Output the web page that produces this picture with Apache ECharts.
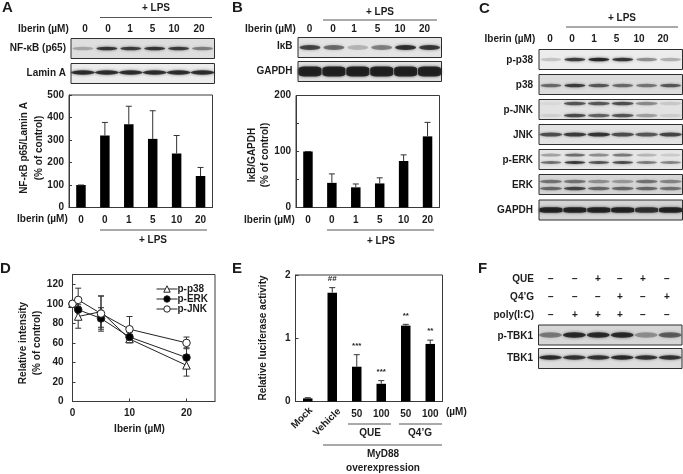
<!DOCTYPE html>
<html>
<head>
<meta charset="utf-8">
<script src="https://cdn.jsdelivr.net/npm/echarts@6/dist/echarts.min.js"></script>
<style>
  html,body{margin:0;padding:0;background:#fff;}
  #chart{width:683px;height:474px;}
</style>
</head>
<body>
<div id="chart"></div>
<script>
// bar panels
const doseLabels = ['0','0','1','5','10','20'];
const nfkbValues = [100,320,370,305,240,140];
const nfkbTops = [100,378,450,430,320,178];
const ikbValues = [100,44,36,43,83,127];
const ikbTops = [100,60,42,53,94,152];
const lucCategories = ['Mock','Vehicle','50','100','50','100'];
const lucValues = [0.05,1.72,0.55,0.28,1.2,0.91];
const lucTops = [0.06,1.8,0.74,0.33,1.22,0.97];
const lucMarks = ['','##','***','***','**','**'];

// line panel
const iberinDoses = [0,1,5,10,20];
const pP38 = [100,87,92,64,37];
const pP38Err = [0,12,16,4,11];
const pERK = [100,94,85,66,45];
const pERKErr = [0,10,11,5,10];
const pJNK = [100,104,90,74,60];
const pJNKErr = [0,12,18,13,6];

// blot band intensity, 0-1, one value per lane
const nfkbBand = [.3,.9,.85,.9,.85,.5];
const laminBand = [.95,.95,.95,.95,.95,.95];
const ikbBand = [.8,.6,.25,.5,.92,.88];
const gapdhBand = [1,1,1,1,1,1];
const pp38Band = [.2,.85,1,.9,.45,.3];
const p38Band = [.6,.85,.7,.6,.55,.7];
const pjnkUpper = [.06,.72,.7,.75,.45,.15];
const pjnkLower = [.1,.78,.65,.72,.35,.12];
const jnkBand = [.75,.85,.9,.75,.7,.8];
const perkUpper = [.35,.6,.45,.55,.25,.15];
const perkLower = [.6,.9,.75,.8,.55,.5];
const erkUpper = [.55,.55,.4,.35,.55,.45];
const erkLower = [.6,.8,.6,.6,.6,.55];
const gapdhBandC = [1,1,1,1,.9,1];
const ptbk1Band = [.5,.95,.95,.95,.4,.65];
const tbk1Band = [.95,.9,.9,.95,.9,.9];

// treatment rows in panel F
const rowQUE = ['−','−','+','−','+','−'];
const rowQ4G = ['−','−','−','+','−','+'];
const rowPoly = ['−','+','+','+','−','−'];

const FONT = 'bold 10px "Liberation Sans", Arial, sans-serif';
const INK = '#1c1c1c';
const FRAME = '#3a3a3a';

const grids = [], xAxes = [], yAxes = [], series = [], graphics = [];

function text(str, x, y, align, opt) {
  opt = opt || {};
  graphics.push({
    type: 'text', x: x, y: y, rotation: (opt.rot || 0) * Math.PI / 180, silent: true,
    style: {text: str, font: opt.font || FONT, fill: INK, align: align || 'center', verticalAlign: 'middle'}
  });
}
function rule(x1, x2, y) {
  graphics.push({type:'line', silent:true, shape:{x1:x1,y1:y,x2:x2,y2:y}, style:{stroke:'#555',lineWidth:1}});
}
function letter(s, x, y) { text(s, x, y, 'left', {font:'bold 15px "Liberation Sans", Arial, sans-serif'}); }
function row(labels, xs, y) { labels.forEach((l,i) => text(l, xs[i], y)); }

// a blot is its own little grid, one scatter mark per lane
function blot(left, top, bg, rows, bandW, bandH, symbol) {
  const idx = grids.length;
  grids.push({left:left, top:top, width:143.5, height:20, show:true, backgroundColor:bg, borderColor:'#2e2e2e', borderWidth:1});
  xAxes.push({type:'category', gridIndex:idx, show:false, data:doseLabels});
  yAxes.push({type:'value', gridIndex:idx, show:false, min:0, max:1});
  rows.forEach(r => {
    series.push({
      type:'scatter', xAxisIndex:idx, yAxisIndex:idx, silent:true, symbol:symbol || 'circle', symbolSize:[bandW,r.h || bandH],
      data:r.band.map((v,i) => ({
        value:[i, r.y],
        itemStyle:{color:'rgba(15,15,15,'+v+')', shadowColor:'rgba(15,15,15,'+v*0.8+')', shadowBlur:3}
      }))
    });
  });
}

// error whiskers go through the axis scale; up-only on bars, both ways on the lines
function whiskers(idx, xs, los, his, capW, marks, name) {
  series.push({
    type:'custom', xAxisIndex:idx, yAxisIndex:idx, silent:true, z:4,
    data:xs.map((x,i) => [x, los[i], his[i]]),
    renderItem:function(params, api){
      const a = api.coord([api.value(0), api.value(1)]);
      const b = api.coord([api.value(0), api.value(2)]);
      const st = {stroke:'#333', lineWidth:1};
      const kids = [
        {type:'line', shape:{x1:a[0],y1:a[1],x2:b[0],y2:b[1]}, style:st},
        {type:'line', shape:{x1:b[0]-capW,y1:b[1],x2:b[0]+capW,y2:b[1]}, style:st}
      ];
      if (name === 'both') kids.push({type:'line', shape:{x1:a[0]-capW,y1:a[1],x2:a[0]+capW,y2:a[1]}, style:st});
      if (marks && marks[params.dataIndex]) {
        kids.push({type:'text', style:{text:marks[params.dataIndex], x:b[0], y:b[1]-9, align:'center', verticalAlign:'middle', fill:INK, font:'bold 8px "Liberation Sans", Arial, sans-serif'}});
      }
      return {type:'group', children:kids};
    }
  });
}

function barPanel(box, cats, vals, tops, yMax, yInt, labelEvery, marks, hideFirst) {
  const idx = grids.length;
  grids.push({left:box[0], top:box[1], width:box[2], height:box[3], show:true, backgroundColor:'#fff', borderColor:FRAME, borderWidth:1});
  xAxes.push({
    type:'category', gridIndex:idx, data:cats,
    axisLine:{lineStyle:{color:FRAME}}, axisTick:{show:false},
    axisLabel:{interval:0, margin:8, color:INK, fontWeight:'bold', fontSize:10, fontFamily:'Liberation Sans',
      formatter:(v,i) => (hideFirst && i < hideFirst) ? '' : v}
  });
  yAxes.push({
    type:'value', gridIndex:idx, min:0, max:yMax, interval:yInt, splitLine:{show:false},
    axisLine:{show:true, lineStyle:{color:FRAME}}, axisTick:{show:true, inside:true, length:3, lineStyle:{color:FRAME}},
    axisLabel:{margin:5, color:INK, fontWeight:'bold', fontSize:10, fontFamily:'Liberation Sans',
      formatter:v => (v % labelEvery === 0 ? String(v) : '')}
  });
  series.push({type:'bar', xAxisIndex:idx, yAxisIndex:idx, silent:true, data:vals, barWidth:9.5, itemStyle:{color:'#000'}});
  whiskers(idx, cats.map((c,i)=>i), vals, tops, 3, marks);
}

/* ---------- A ---------- */
letter('A', 2, 8);
text('+ LPS', 156, 8.5); rule(100, 212, 17.5);
text('Iberin (µM)', 18, 29, 'left');
row(doseLabels, [85,108,130,152.5,174,199], 29);
text('NF-κB (p65)', 66, 48.5, 'right'); text('Lamin A', 66, 73, 'right');
blot(71, 38.5, '#dedede', [{band:nfkbBand, y:.5}], 21, 3.5);
blot(71, 63.5, '#ececec', [{band:laminBand, y:.55}], 24, 4.5);
barPanel([69,95,143.5,112.5], doseLabels, nfkbValues, nfkbTops, 500, 100, 100);
text('NF-κB p65/Lamin A', 24, 148, 'center', {rot:90});
text('(% of control)', 39, 148, 'center', {rot:90});
text('Iberin (µM)', 17, 219, 'left');
rule(100, 207, 230); text('+ LPS', 153, 240);

/* ---------- B ---------- */
letter('B', 232, 8);
text('+ LPS', 380, 12); rule(323, 437, 20);
text('Iberin (µM)', 245, 29.5, 'left');
row(doseLabels, [309.5,333,354,377.5,400,424.5], 29.5);
text('IκB', 292.5, 46.5, 'right'); text('GAPDH', 292.5, 71.5, 'right');
blot(298, 37.5, '#e4e4e4', [{band:ikbBand, y:.5}], 21, 5);
blot(298, 61.5, '#e0e0e0', [{band:gapdhBand, y:.5}], 23, 10, 'roundRect');
barPanel([296,95.5,143.5,112], doseLabels, ikbValues, ikbTops, 200, 50, 100);
text('IκB/GAPDH', 252, 155, 'center', {rot:90});
text('(% of control)', 265, 155, 'center', {rot:90});
text('Iberin (µM)', 244, 220, 'left');
rule(327, 434, 230); text('+ LPS', 381, 241);

/* ---------- C ---------- */
letter('C', 479, 9);
text('+ LPS', 622, 18.5); rule(566, 678, 27);
text('Iberin (µM)', 484.5, 39, 'left');
row(doseLabels, [550,572,594,616.5,639,663], 39);
const labelsC = [['p-p38',60],['p38',85],['p-JNK',110],['JNK',135],['p-ERK',160],['ERK',185],['GAPDH',210]];
labelsC.forEach(l => text(l[0], 533, l[1], 'right'));
blot(539, 49.5, '#ececec', [{band:pp38Band, y:.5}], 21, 3.5);
blot(539, 74.5, '#dcdcdc', [{band:p38Band, y:.45}], 21, 3.5);
blot(539, 99.5, '#e2e2e2', [{band:pjnkUpper, y:.8},{band:pjnkLower, y:.2}], 22, 3.5);
blot(539, 124.5, '#e2e2e2', [{band:jnkBand, y:.5}], 23, 4);
blot(539, 149.5, '#e6e6e6', [{band:perkUpper, y:.72},{band:perkLower, y:.35}], 21, 3);
blot(539, 174.5, '#d6d6d6', [{band:erkUpper, y:.65},{band:erkLower, y:.3}], 22, 3.5);
blot(539, 200, '#d4d4d4', [{band:gapdhBandC, y:.5}], 23, 5.5, 'roundRect');

/* ---------- D ---------- */
letter('D', 0, 269);
const dIdx = grids.length;
grids.push({left:72.5, top:274.5, width:142.5, height:127, show:true, backgroundColor:'#fff', borderColor:FRAME, borderWidth:1});
xAxes.push({
  type:'value', gridIndex:dIdx, min:0, max:25, interval:10, splitLine:{show:false},
  axisLine:{lineStyle:{color:FRAME}}, axisTick:{inside:true, length:3, lineStyle:{color:FRAME}},
  axisLabel:{margin:7, showMaxLabel:false, color:INK, fontWeight:'bold', fontSize:10, fontFamily:'Liberation Sans'}
});
yAxes.push({
  type:'value', gridIndex:dIdx, min:0, max:130, interval:20, splitLine:{show:false},
  axisLine:{show:true, lineStyle:{color:FRAME}}, axisTick:{inside:true, length:3, lineStyle:{color:FRAME}},
  axisLabel:{margin:9, showMaxLabel:false, color:INK, fontWeight:'bold', fontSize:10, fontFamily:'Liberation Sans'}
});
[[pP38,pP38Err],[pERK,pERKErr],[pJNK,pJNKErr]].forEach(s => {
  whiskers(dIdx, iberinDoses, s[0].map((v,i)=>v-s[1][i]), s[0].map((v,i)=>v+s[1][i]), 3, null, 'both');
});
function doseLine(name, vals, symbol, fill) {
  series.push({
    type:'line', name:name, xAxisIndex:dIdx, yAxisIndex:dIdx, silent:true, z:5,
    data:iberinDoses.map((d,i)=>[d, vals[i]]),
    symbol:symbol, symbolSize:7.5, showAllSymbols:true,
    lineStyle:{color:'#222', width:1},
    itemStyle:{color:fill, borderColor:'#222', borderWidth:1, opacity:1}
  });
}
doseLine('p-p38', pP38, 'triangle', '#fff');
doseLine('p-ERK', pERK, 'circle', '#000');
doseLine('p-JNK', pJNK, 'circle', '#fff');
text('Relative intensity', 23, 343, 'center', {rot:90});
text('(% of control)', 37, 343, 'center', {rot:90});
text('Iberin (µM)', 139.5, 429);

/* ---------- E ---------- */
letter('E', 232, 269);
barPanel([295.5,275,147,126.5], lucCategories, lucValues, lucTops, 2, 1, 1, lucMarks, 2);
text('Relative luciferase activity', 263, 338, 'center', {rot:90});
text('Mock', 302, 418, 'center', {rot:45});
text('Vehicle', 327, 422, 'center', {rot:45});
text('(µM)', 446, 412, 'left');
rule(348, 391, 424); rule(399, 442, 424);
text('QUE', 370, 433); text('Q4’G', 420, 433);
rule(323, 442, 445);
text('MyD88', 383, 454.5); text('overexpression', 383, 468);

/* ---------- F ---------- */
letter('F', 478, 269);
const lanesF = [551,575,598,620,643,667];
text('QUE', 534, 279.5, 'right'); row(rowQUE, lanesF, 279.5);
text('Q4’G', 534, 297.5, 'right'); row(rowQ4G, lanesF, 297.5);
text('poly(I:C)', 534, 315.5, 'right'); row(rowPoly, lanesF, 315.5);
text('p-TBK1', 533, 336, 'right'); text('TBK1', 533, 358.5, 'right');
blot(538.5, 325, '#d6d6d6', [{band:ptbk1Band, y:.5}], 23, 5.5);
blot(538.5, 348.5, '#dedede', [{band:tbk1Band, y:.55}], 23, 4.5);

const myChart = echarts.init(document.getElementById('chart'), null, {renderer:'canvas'});
myChart.setOption({
  animation:false,
  backgroundColor:'#fff',
  grid:grids, xAxis:xAxes, yAxis:yAxes, series:series, graphic:graphics,
  legend:{
    orient:'vertical', left:151, top:279, itemWidth:21, itemHeight:8, itemGap:0, selectedMode:false,
    data:['p-p38','p-ERK','p-JNK'],
    lineStyle:{width:1, color:'#222'},
    itemStyle:{borderWidth:1, borderColor:'#222'},
    textStyle:{color:INK, fontWeight:'bold', fontSize:10, fontFamily:'Liberation Sans', padding:[0,0,0,-5]}
  }
});
</script>
</body>
</html>
